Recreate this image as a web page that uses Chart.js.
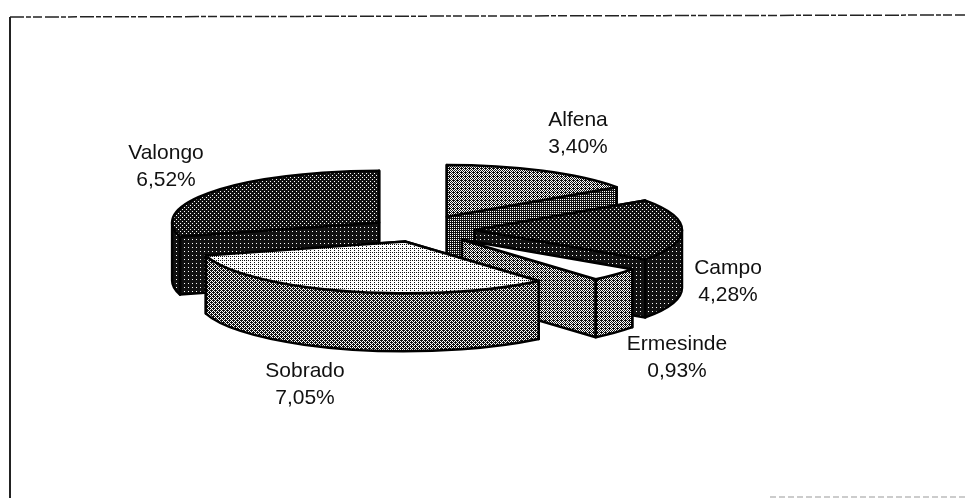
<!DOCTYPE html>
<html>
<head>
<meta charset="utf-8">
<title>Pie</title>
<script src="https://cdn.jsdelivr.net/npm/chart.js@4/dist/chart.umd.js"></script>
<style>
html, body { margin: 0; padding: 0; background: #fff; }
#wrap { width: 965px; height: 498px; position: relative; }
</style>
</head>
<body>
<div id="wrap"><canvas id="pie" width="965" height="498"></canvas></div>
<script>
// Data
const categories = ['Alfena', 'Campo', 'Ermesinde', 'Sobrado', 'Valongo'];
const values = [3.40, 4.28, 0.93, 7.05, 6.52];

// Slice styling: share of black used for the dither, and how far each slice is pulled out
const topTone = [0.56, 0.85, 0, 0.16, 0.88];
const sideTone = [0.78, 0.96, 0.56, 0.60, 0.96];
const explode = [60, 56, 58, 48, 50];

// Label centres (first line), same order as categories
const labelX = [578, 728, 677, 305, 166];
const labelY = [120, 268, 344, 371, 153];

const SQUASH = 0.25;
const DEPTH = 58;

// Ordered dither so the fills look like the printed halftone
const BAYER = [0, 8, 2, 10, 12, 4, 14, 6, 3, 11, 1, 9, 15, 7, 13, 5];
function ditherPattern(ctx, black) {
  const c = document.createElement('canvas');
  c.width = 4;
  c.height = 4;
  const p = c.getContext('2d');
  p.fillStyle = '#fff';
  p.fillRect(0, 0, 4, 4);
  p.fillStyle = '#111';
  BAYER.forEach((t, i) => {
    if ((t + 0.5) / 16 < black) p.fillRect(i % 4, Math.floor(i / 4), 1, 1);
  });
  return ctx.createPattern(c, 'repeat');
}

function outline(ctx) {
  ctx.fill();
  ctx.stroke();
}

function drawSlice(ctx, arc, side) {
  const { startAngle, endAngle, outerRadius } = arc;
  const r = outerRadius;
  const ry = r * SQUASH;
  const mid = (startAngle + endAngle) / 2;
  const off = arc.options.offset;
  const x = arc.x + Math.cos(mid) * off;
  const y = arc.y + Math.sin(mid) * off * SQUASH;
  const edge = a => [x + Math.cos(a) * r, y + Math.sin(a) * ry];

  ctx.lineWidth = 2.5;
  ctx.lineJoin = 'round';
  ctx.strokeStyle = '#000';
  ctx.fillStyle = side;

  // cut faces, the one reaching further back goes first
  [startAngle, endAngle]
    .sort((a, b) => edge(a)[1] - edge(b)[1])
    .forEach(a => {
      const [px, py] = edge(a);
      ctx.beginPath();
      ctx.moveTo(x, y);
      ctx.lineTo(px, py);
      ctx.lineTo(px, py + DEPTH);
      ctx.lineTo(x, y + DEPTH);
      ctx.closePath();
      outline(ctx);
    });

  // outer wall, only the part facing the viewer
  const lo = Math.max(startAngle, 0);
  const hi = Math.min(endAngle, Math.PI);
  if (hi > lo) {
    ctx.beginPath();
    ctx.ellipse(x, y, r, ry, 0, lo, hi);
    ctx.ellipse(x, y + DEPTH, r, ry, 0, hi, lo, true);
    ctx.closePath();
    outline(ctx);
  }

  // top face
  ctx.fillStyle = arc.options.backgroundColor;
  ctx.beginPath();
  ctx.moveTo(x, y);
  ctx.ellipse(x, y, r, ry, 0, startAngle, endAngle);
  ctx.closePath();
  outline(ctx);
}

// Draws the pie's arcs as extruded slices, back to front
const pie3d = {
  id: 'pie3d',
  beforeDatasetsDraw(chart) {
    const ctx = chart.ctx;
    const arcs = chart.getDatasetMeta(0).data;
    const depthOf = i => {
      const a = arcs[i];
      return Math.sin((a.startAngle + a.endAngle) / 2) * a.options.offset;
    };
    const order = arcs.map((_, i) => i).sort((a, b) => depthOf(a) - depthOf(b));
    ctx.save();
    order.forEach(i => drawSlice(ctx, arcs[i], sidePatterns[i]));
    ctx.restore();
    return false;
  }
};

// Text labels and the scanned frame
const labelsAndFrame = {
  id: 'labelsAndFrame',
  afterDraw(chart) {
    const ctx = chart.ctx;
    ctx.save();
    ctx.fillStyle = '#111';
    ctx.font = '21px "Liberation Sans", Arial, sans-serif';
    ctx.textAlign = 'center';
    ctx.textBaseline = 'middle';
    categories.forEach((name, i) => {
      ctx.fillText(name, labelX[i], labelY[i]);
      ctx.fillText(values[i].toFixed(2).replace('.', ',') + '%', labelX[i], labelY[i] + 27);
    });

    ctx.strokeStyle = '#222';
    ctx.lineWidth = 2;
    ctx.beginPath();
    ctx.moveTo(10, 498);
    ctx.lineTo(10, 17);
    ctx.stroke();

    ctx.lineWidth = 1.5;
    ctx.setLineDash([14, 2, 5, 2, 9, 3]);
    ctx.beginPath();
    ctx.moveTo(10, 17);
    ctx.lineTo(965, 15);
    ctx.stroke();

    ctx.strokeStyle = '#999';
    ctx.lineWidth = 1;
    ctx.setLineDash([6, 3]);
    ctx.beginPath();
    ctx.moveTo(770, 497);
    ctx.lineTo(965, 497);
    ctx.stroke();
    ctx.restore();
  }
};

const ctx = document.getElementById('pie').getContext('2d');
const topPatterns = topTone.map(t => ditherPattern(ctx, t));
const sidePatterns = sideTone.map(t => ditherPattern(ctx, t));

new Chart(ctx, {
  type: 'pie',
  data: {
    labels: categories,
    datasets: [{
      data: values,
      backgroundColor: topPatterns,
      offset: explode,
      borderWidth: 0,
      hoverOffset: 0
    }]
  },
  options: {
    responsive: false,
    animation: false,
    radius: 207,
    layout: { padding: { right: 127, bottom: 38 } },
    plugins: {
      legend: { display: false },
      tooltip: { enabled: false }
    }
  },
  plugins: [pie3d, labelsAndFrame]
});
</script>
</body>
</html>
